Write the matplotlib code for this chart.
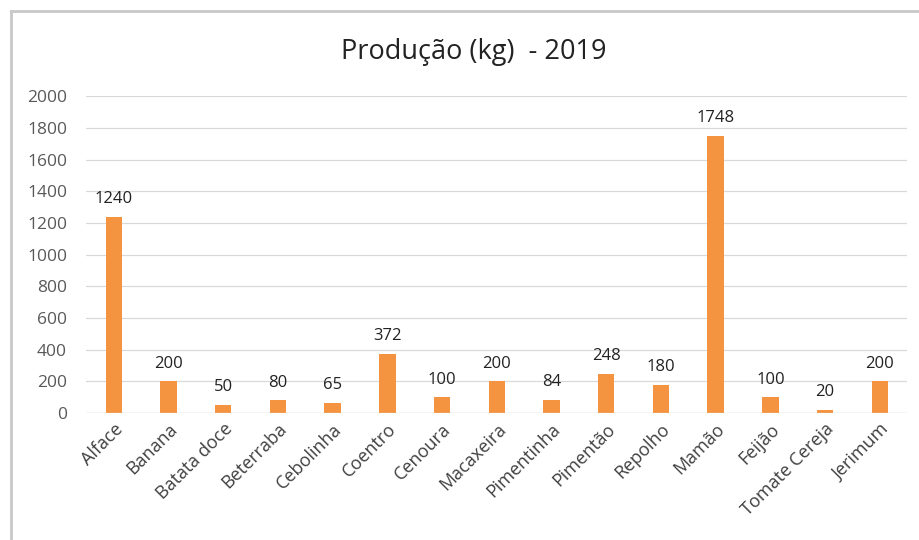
import matplotlib.pyplot as plt
from matplotlib.lines import Line2D

categories = ['Alface', 'Banana', 'Batata doce', 'Beterraba', 'Cebolinha', 'Coentro',
              'Cenoura', 'Macaxeira', 'Pimentinha', 'Pimentão', 'Repolho', 'Mamão',
              'Feijão', 'Tomate Cereja', 'Jerimum']
values = [1240, 200, 50, 80, 65, 372, 100, 200, 84, 248, 180, 1748, 100, 20, 200]
yticks = [0, 200, 400, 600, 800, 1000, 1200, 1400, 1600, 1800, 2000]

plt.rcParams['font.family'] = ['Open Sans', 'DejaVu Sans']

fig = plt.figure(figsize=(9.2, 5.4), dpi=100)
ax = fig.add_axes([0.094, 0.235, 0.892, 0.587])

x = range(len(categories))
bars = ax.bar(x, values, width=0.3, color='#F59440', zorder=3)
for b, v in zip(bars, values):
    ax.annotate(str(v), (b.get_x() + b.get_width() / 2, v), xytext=(0, 7),
                textcoords='offset points', ha='center', va='bottom',
                fontsize=12, color='#222222')

ax.set_xlim(-0.5, len(categories) - 0.5)
ax.set_ylim(0, 2000)
ax.set_yticks(yticks)
ax.set_xticks(list(x))
ax.set_xticklabels(categories, rotation=45, ha='right', rotation_mode='anchor',
                   fontsize=13, color='#404040')
ax.tick_params(axis='y', labelsize=12.5, labelcolor='#595959', length=0, pad=14)
ax.tick_params(axis='x', length=0, pad=5)
ax.grid(axis='y', color='#D9D9D9', linewidth=0.9, zorder=0)
for s in ax.spines.values():
    s.set_visible(False)
ax.axhline(0, color='#D9D9D9', linewidth=0.9, zorder=4)

fig.suptitle('Produção (kg)  - 2019', x=0.515, y=0.93, fontsize=19.5, color='#222222')

# chart border (cut off at the right and bottom)
fig.add_artist(Line2D([11 / 920, 11 / 920], [0, 1 - 11 / 540], color='#C8C8C8', linewidth=2))
fig.add_artist(Line2D([11 / 920, 1], [1 - 11 / 540, 1 - 11 / 540], color='#C8C8C8', linewidth=2))

fig.savefig('out.png', dpi=100, facecolor='white')
